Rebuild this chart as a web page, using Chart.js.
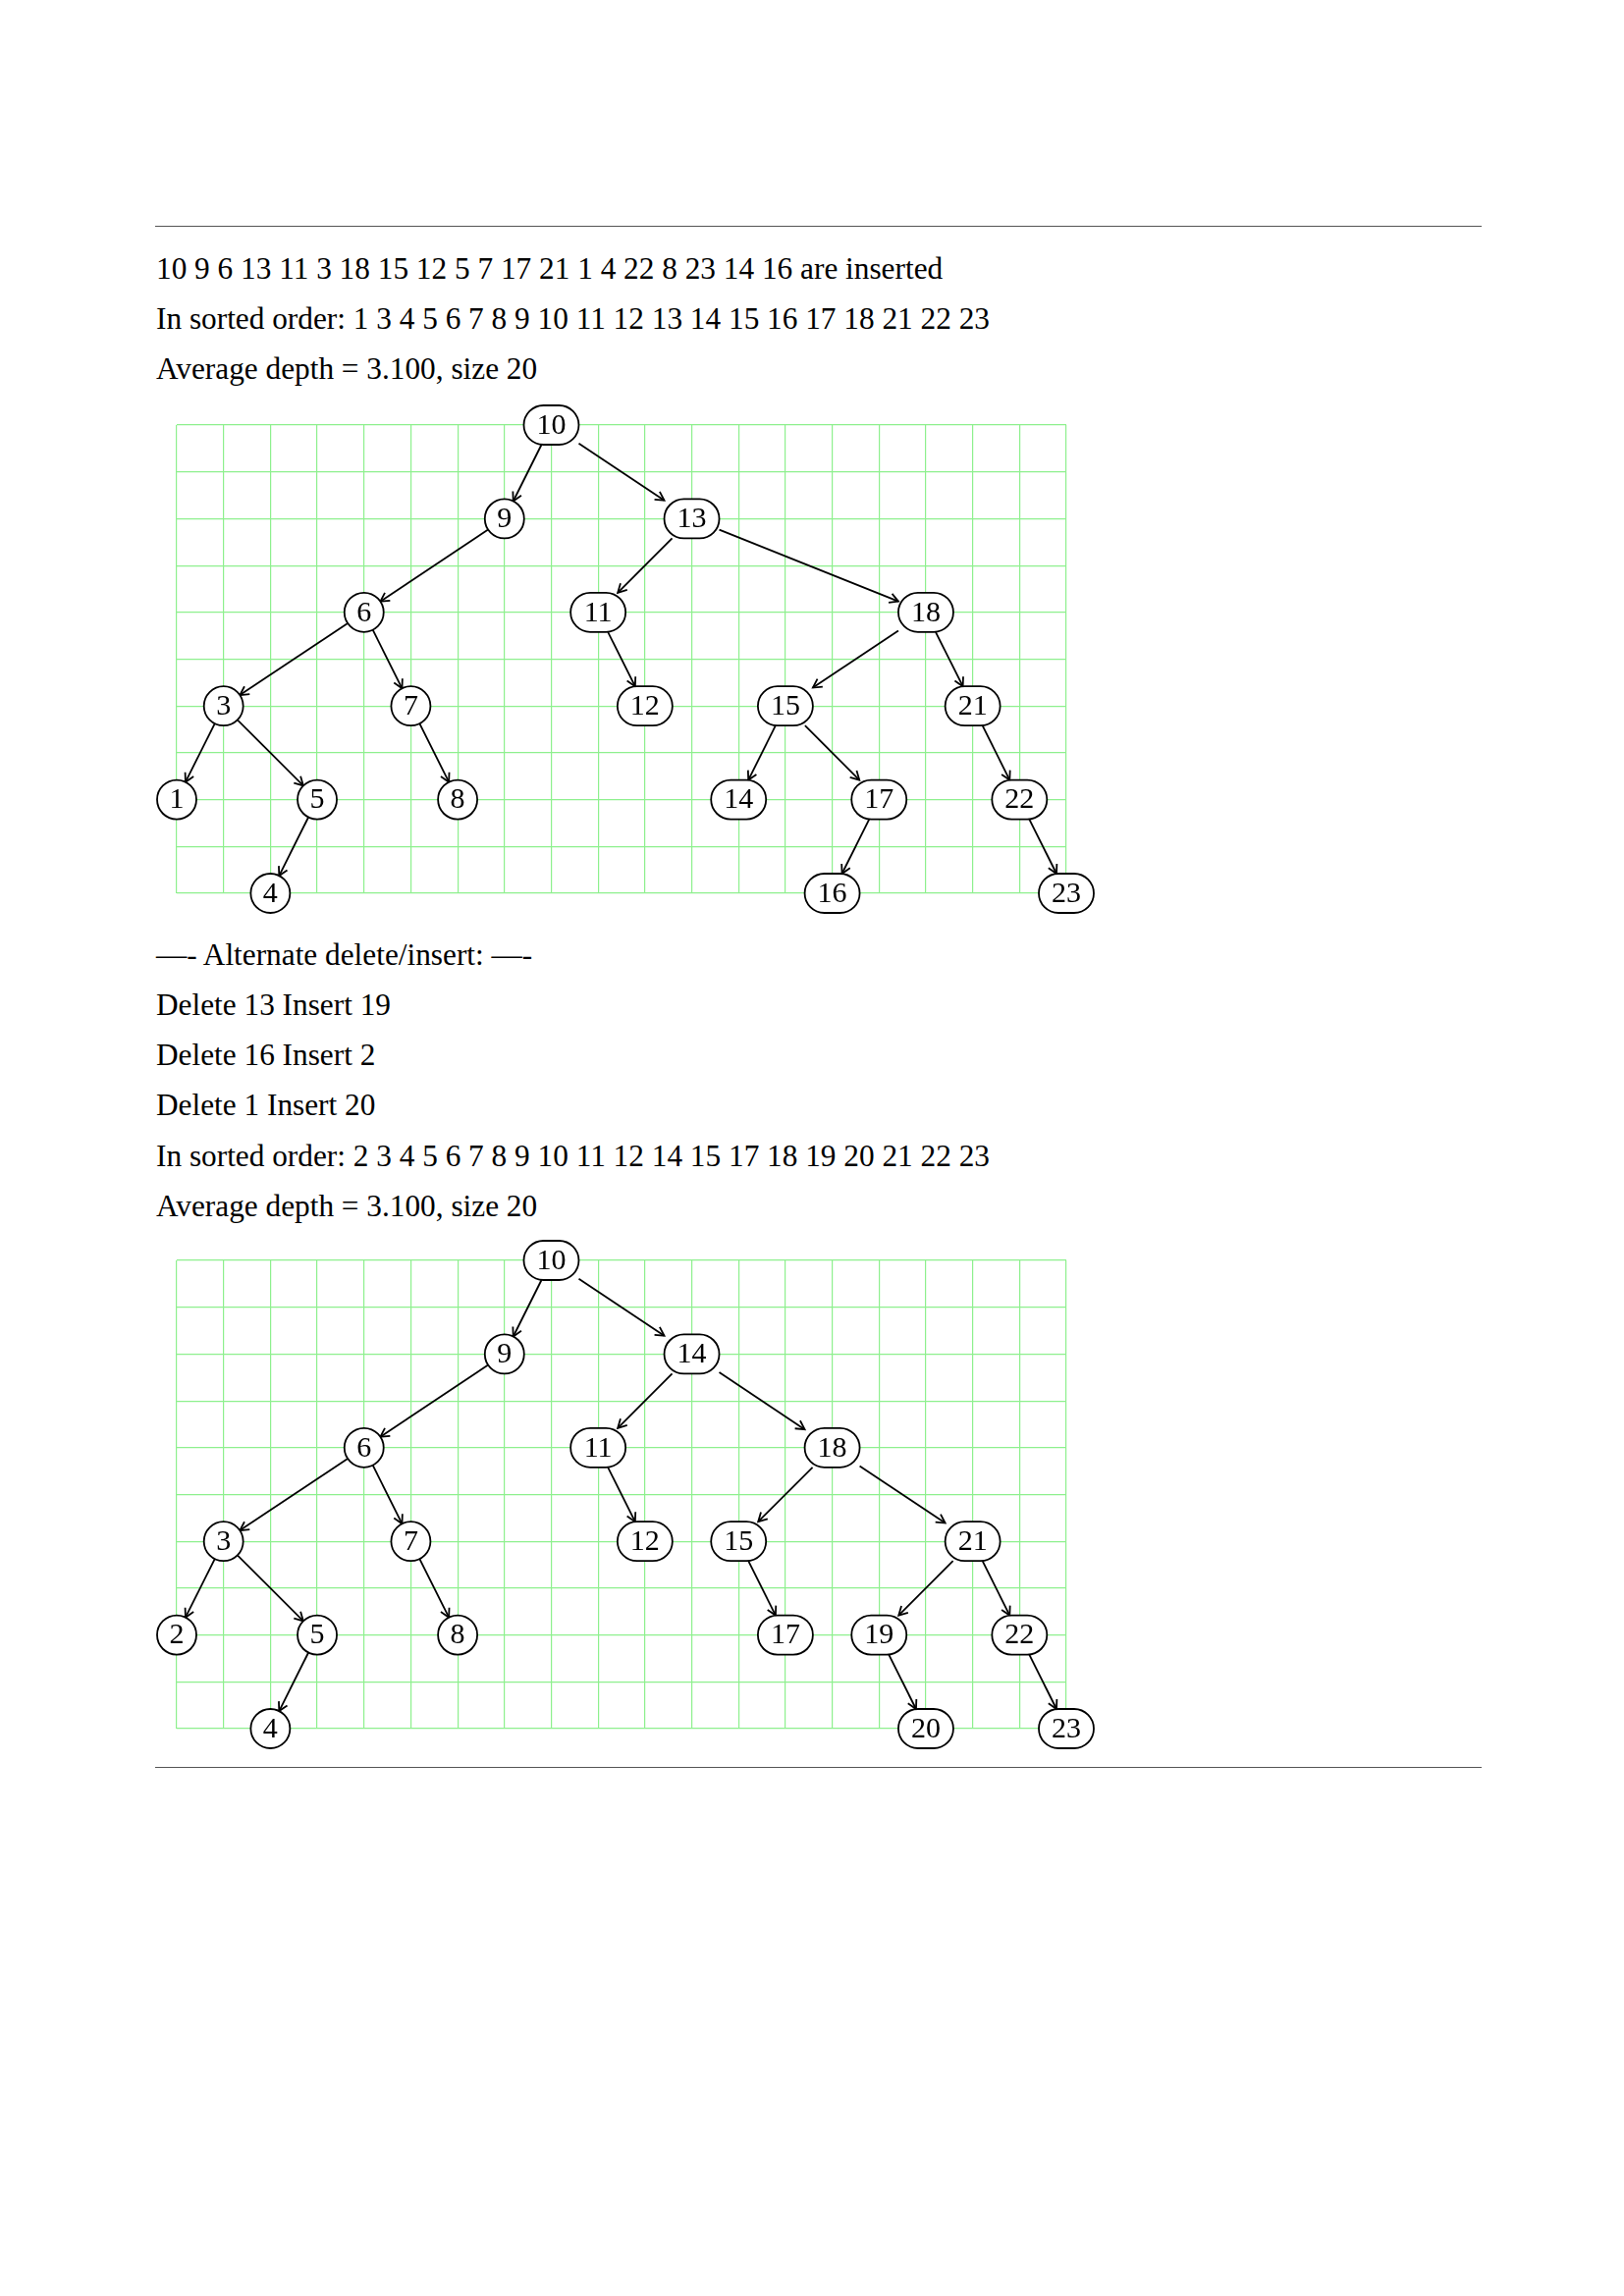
<!DOCTYPE html>
<html><head><meta charset="utf-8">
<script src="https://cdn.jsdelivr.net/npm/chart.js@4"></script>
<style>
body{margin:0;width:1654px;height:2339px;background:#fff;position:relative;font-family:"Liberation Serif","DejaVu Serif",serif;}
.t{position:absolute;left:159px;font-size:31.3px;line-height:30px;color:#000;white-space:nowrap}
.hr{position:absolute;left:158px;width:1351px;height:0;border-top:1.5px solid #555}
.c{position:absolute;left:150px;width:980px;height:540px}
</style></head><body>
<div class="hr" style="top:230px"></div>
<div class="t" style="top:259px">10 9 6 13 11 3 18 15 12 5 7 17 21 1 4 22 8 23 14 16 are inserted</div>
<div class="t" style="top:310px">In sorted order: 1 3 4 5 6 7 8 9 10 11 12 13 14 15 16 17 18 21 22 23</div>
<div class="t" style="top:361px">Average depth = 3.100, size 20</div>
<div class="c" style="top:400px"><canvas id="c1" width="980" height="540"></canvas></div>
<div class="t" style="top:958px">—- Alternate delete/insert: —-</div>
<div class="t" style="top:1009px">Delete 13 Insert 19</div>
<div class="t" style="top:1060px">Delete 16 Insert 2</div>
<div class="t" style="top:1111px">Delete 1 Insert 20</div>
<div class="t" style="top:1163px">In sorted order: 2 3 4 5 6 7 8 9 10 11 12 14 15 17 18 19 20 21 22 23</div>
<div class="t" style="top:1214px">Average depth = 3.100, size 20</div>
<div class="c" style="top:1251px"><canvas id="c2" width="980" height="540"></canvas></div>
<div class="hr" style="top:1800px"></div>
<script>
// Tree 1
const keys1   = [10, 9, 13, 6, 11, 18, 3, 7, 12, 15, 21, 1, 5, 8, 14, 17, 22, 4, 16, 23];
const xs1     = [ 8, 7, 11, 4,  9, 16, 1, 5, 10, 13, 17, 0, 3, 6, 12, 15, 18, 2, 14, 19];
const depth1  = [ 0, 1,  1, 2,  2,  2, 3, 3,  3,  3,  3, 4, 4, 4,  4,  4,  4, 5,  5,  5];
const parent1 = [null,10,10,9,13,13,6,6,11,18,18,3,3,7,15,15,21,5,17,22];
// Tree 2
const keys2   = [10, 9, 14, 6, 11, 18, 3, 7, 12, 15, 21, 2, 5, 8, 17, 19, 22, 4, 20, 23];
const xs2     = [ 8, 7, 11, 4,  9, 14, 1, 5, 10, 12, 17, 0, 3, 6, 13, 15, 18, 2, 16, 19];
const depth2  = [ 0, 1,  1, 2,  2,  2, 3, 3,  3,  3,  3, 4, 4, 4,  4,  4,  4, 5,  5,  5];
const parent2 = [null,10,10,9,14,14,6,6,11,18,18,3,3,7,15,21,21,5,19,22];

function nodeSize(k){ return String(k).length>1 ? {hw:28,hh:20} : {hw:20,hh:20}; }
function clip(dx,dy,s){
  const L=Math.hypot(dx,dy);
  if(s.hw===s.hh) return s.hw/L;
  return Math.min(s.hw/Math.abs(dx||1e-9), s.hh/Math.abs(dy||1e-9));
}
const treePlugin={id:'tree',afterDatasetsDraw(chart){
  const o=chart.options.plugins.tree, ctx=chart.ctx, X=chart.scales.x, Y=chart.scales.y;
  const pos={};
  o.keys.forEach((k,i)=>{pos[k]={x:X.getPixelForValue(o.xs[i]),y:Y.getPixelForValue(o.depth[i]*2)};});
  ctx.save();ctx.strokeStyle='#000';ctx.lineWidth=1.8;
  o.keys.forEach((k,i)=>{
    const p=o.parent[i]; if(p==null) return;
    const a=pos[p], b=pos[k], dx=b.x-a.x, dy=b.y-a.y;
    const t1=clip(dx,dy,nodeSize(p)), t2=clip(dx,dy,nodeSize(k));
    const sx=a.x+dx*t1, sy=a.y+dy*t1, ex=b.x-dx*t2, ey=b.y-dy*t2;
    ctx.beginPath();ctx.moveTo(sx,sy);ctx.lineTo(ex,ey);ctx.stroke();
    const ang=Math.atan2(dy,dx), h=10;
    ctx.beginPath();
    ctx.moveTo(ex-h*Math.cos(ang-0.5),ey-h*Math.sin(ang-0.5));
    ctx.lineTo(ex,ey);
    ctx.lineTo(ex-h*Math.cos(ang+0.5),ey-h*Math.sin(ang+0.5));
    ctx.stroke();
  });
  o.keys.forEach(k=>{
    const c=pos[k], s=nodeSize(k);
    ctx.beginPath();
    if(s.hw===s.hh){ctx.arc(c.x,c.y,s.hw,0,Math.PI*2);}
    else{ctx.roundRect(c.x-s.hw,c.y-s.hh,2*s.hw,2*s.hh,s.hh);}
    ctx.fillStyle='#fff';ctx.fill();ctx.stroke();
    ctx.fillStyle='#000';ctx.font='30px "Liberation Serif", serif';
    ctx.textAlign='center';ctx.textBaseline='middle';
    ctx.fillText(String(k),c.x,c.y+1);
  });
  ctx.restore();
}};
function make(id,keys,xs,depth,parent){
  new Chart(document.getElementById(id),{
    type:'scatter',
    data:{datasets:[{data:keys.map((k,i)=>({x:xs[i],y:depth[i]*2})),pointRadius:0}]},
    options:{responsive:false,animation:false,events:[],
      layout:{padding:{left:30,right:44,top:33,bottom:30}},
      plugins:{legend:{display:false},tooltip:{enabled:false},tree:{keys,xs,depth,parent}},
      scales:{
        x:{type:'linear',min:0,max:19,ticks:{display:false,stepSize:1},
           grid:{color:'#8ef08e',lineWidth:1.2,drawTicks:false},border:{display:false}},
        y:{type:'linear',min:0,max:10,reverse:true,ticks:{display:false,stepSize:1},
           grid:{color:'#8ef08e',lineWidth:1.2,drawTicks:false},border:{display:false}}
      }},
    plugins:[treePlugin]
  });
}
make('c1',keys1,xs1,depth1,parent1);
make('c2',keys2,xs2,depth2,parent2);
</script>
</body></html>
